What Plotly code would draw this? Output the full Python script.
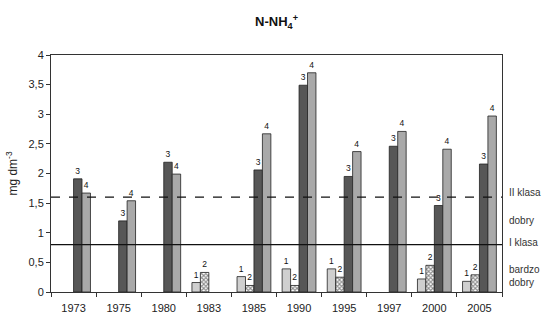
import plotly.graph_objects as go

# Sampling years (categories)
years = ["1973", "1975", "1980", "1983", "1985", "1990", "1995", "1997", "2000", "2005"]

# N-NH4+ concentration [mg dm-3] for the four series (None = no measurement)
series_1 = [None, None, None, 0.16, 0.26, 0.39, 0.39, None, 0.22, 0.18]
series_2 = [None, None, None, 0.33, 0.11, 0.11, 0.25, None, 0.45, 0.29]
series_3 = [1.91, 1.20, 2.19, None, 2.06, 3.49, 1.95, 2.46, 1.46, 2.16]
series_4 = [1.67, 1.54, 1.99, None, 2.67, 3.70, 2.37, 2.71, 2.41, 2.97]

series_names = ["1", "2", "3", "4"]

# Class limits
limit_I = 0.8
limit_II = 1.6

y_ticks = [0, 0.5, 1, 1.5, 2, 2.5, 3, 3.5, 4]

FONT = "Arial, Liberation Sans, sans-serif"

fig = go.Figure()

styles = [
    dict(color="#cfcfcf"),
    dict(color="#ffffff", pattern=dict(shape="x", fgcolor="#1a1a1a", bgcolor="#ffffff", size=3, solidity=0.6)),
    dict(color="#575757"),
    dict(color="#a9a9a9"),
]

for vals, name, st in zip([series_1, series_2, series_3, series_4], series_names, styles):
    xs = [yr for yr, v in zip(years, vals) if v is not None]
    ys = [v for v in vals if v is not None]
    marker = dict(line=dict(color="#222222", width=0.8), **st)
    fig.add_trace(go.Bar(
        x=xs, y=ys, name=name, marker=marker,
        text=[name] * len(ys), textposition="outside",
        outsidetextfont=dict(size=8.5, color="#111111", family=FONT),
        textfont=dict(size=8.5, color="#111111", family=FONT),
        cliponaxis=False, showlegend=False,
    ))

# Class limit lines
fig.add_shape(type="line", xref="paper", yref="y", x0=0, x1=1, y0=limit_II, y1=limit_II,
              line=dict(color="#111111", width=1.3, dash="dash"))
fig.add_shape(type="line", xref="paper", yref="y", x0=0, x1=1, y0=limit_I, y1=limit_I,
              line=dict(color="#111111", width=1.2))

font_lbl = dict(size=10, color="#333333", family=FONT)
for text, yv in [("II klasa", 1.68), ("dobry", 1.2), ("I klasa", 0.84), ("bardzo<br>dobry", 0.27)]:
    fig.add_annotation(xref="paper", yref="y", x=1.01, y=yv, text=text, showarrow=False,
                       xanchor="left", yanchor="middle", align="left", font=font_lbl)

fig.update_layout(
    width=549, height=336,
    margin=dict(l=49, r=47, t=55, b=44),
    paper_bgcolor="white", plot_bgcolor="white",
    separators=", ",
    barmode="group", bargap=0.25, bargroupgap=0,
    title=dict(text="<b>N-NH<sub>4</sub><sup>+</sup></b>", x=0.5, xref="paper", y=0.935, yanchor="middle",
               font=dict(size=13, color="#111111", family=FONT)),
    font=dict(family=FONT, color="#222222"),
)

fig.update_xaxes(
    type="category", categoryorder="array", categoryarray=years,
    tickson="boundaries", ticks="outside", ticklen=4, tickcolor="#333333",
    ticklabelstandoff=6,
    showline=True, linecolor="#333333", linewidth=1, mirror=True,
    tickfont=dict(size=11, color="#222222"), showgrid=False,
)
fig.update_yaxes(
    range=[0, 4], tickvals=y_ticks, ticks="outside", ticklen=4, tickcolor="#333333",
    showline=True, linecolor="#333333", linewidth=1, mirror=True,
    tickfont=dict(size=11, color="#222222"), showgrid=False, zeroline=False,
    title=dict(text="mg dm<sup>-3</sup>", font=dict(size=12, color="#222222"), standoff=8),
)

fig.write_html("out.html")
